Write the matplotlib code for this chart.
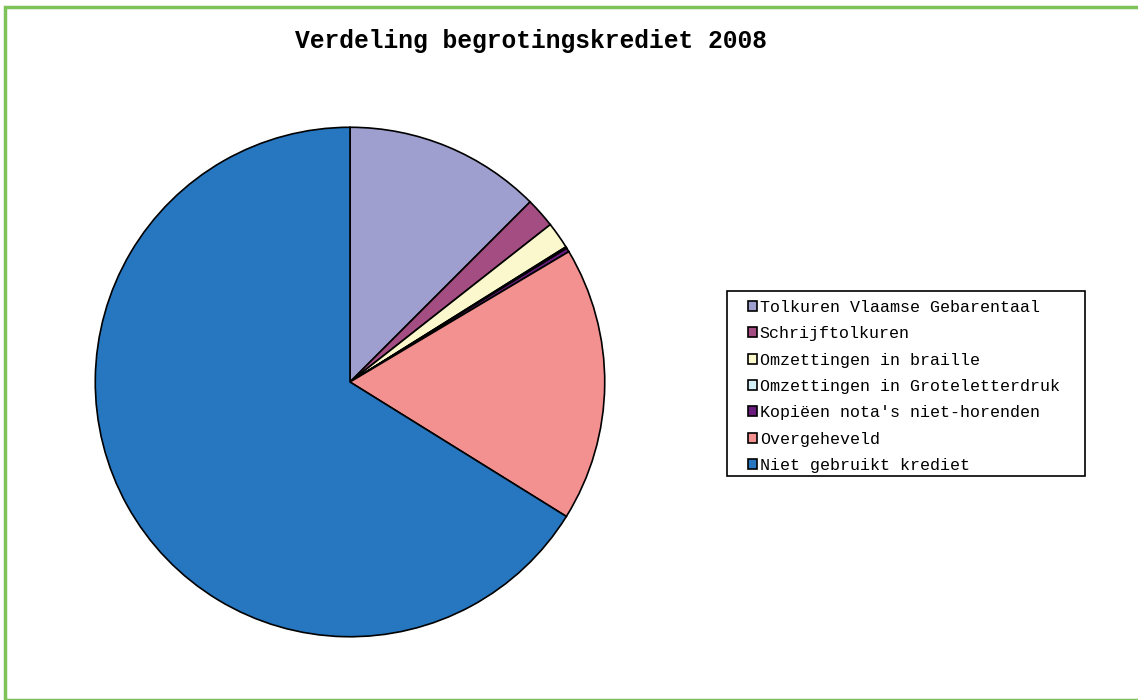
"""
Verdeling begrotingskrediet 2008 - pie chart
"""

import matplotlib.pyplot as plt
from matplotlib.patches import Rectangle

labels = [
    "Tolkuren Vlaamse Gebarentaal",
    "Schrijftolkuren",
    "Omzettingen in braille",
    "Omzettingen in Groteletterdruk",
    "Kopiëen nota's niet-horenden",
    "Overgeheveld",
    "Niet gebruikt krediet",
]
shares = [12.5, 1.9, 1.7, 0.1, 0.25, 17.4, 66.15]
colours = ["#9E9FCF", "#A34D82", "#FBF8CE", "#D2F0F6", "#6A1C7E", "#F39191", "#2677C0"]

W, H = 1138, 700
fig = plt.figure(figsize=(W / 100, H / 100), dpi=100)

# pie sits in a square box of 512 px, centred at (350, 382)
ax = fig.add_axes([94 / W, (H - 638) / H, 512 / W, 512 / H])
wedges, _ = ax.pie(
    shares,
    colors=colours,
    startangle=90,
    counterclock=False,
    radius=1,
    wedgeprops=dict(edgecolor="black", linewidth=1.2),
)
ax.set_xlim(-1.005, 1.005)
ax.set_ylim(-1.005, 1.005)
ax.axis("off")

fig.text(531 / W, 1 - 41 / H, "Verdeling begrotingskrediet 2008",
         family="Liberation Mono", weight="bold", fontsize=17.7,
         ha="center", va="center")

# legend entries without frame; the box is drawn separately
leg = fig.legend(
    wedges,
    labels,
    loc="upper left",
    bbox_to_anchor=(748 / W, 1 - 300 / H),
    borderaxespad=0,
    prop=dict(family="Liberation Mono", size=12),
    handlelength=0.55,
    handleheight=0.55,
    handletextpad=0.15,
    labelspacing=0.68,
    borderpad=0,
    frameon=False,
)
for h in leg.legend_handles:
    h.set_linewidth(1.2)

fig.add_artist(Rectangle((727 / W, 1 - 476 / H), 358 / W, 185 / H,
                         transform=fig.transFigure, fill=False,
                         edgecolor="black", linewidth=1.2))

# green outer border
fig.add_artist(Rectangle((5 / W, 0.5 / H), (W + 5) / W, 1 - 7.5 / H,
                         transform=fig.transFigure, fill=False,
                         edgecolor="#7DC35A", linewidth=2.5))

fig.savefig("out.png", dpi=100)
